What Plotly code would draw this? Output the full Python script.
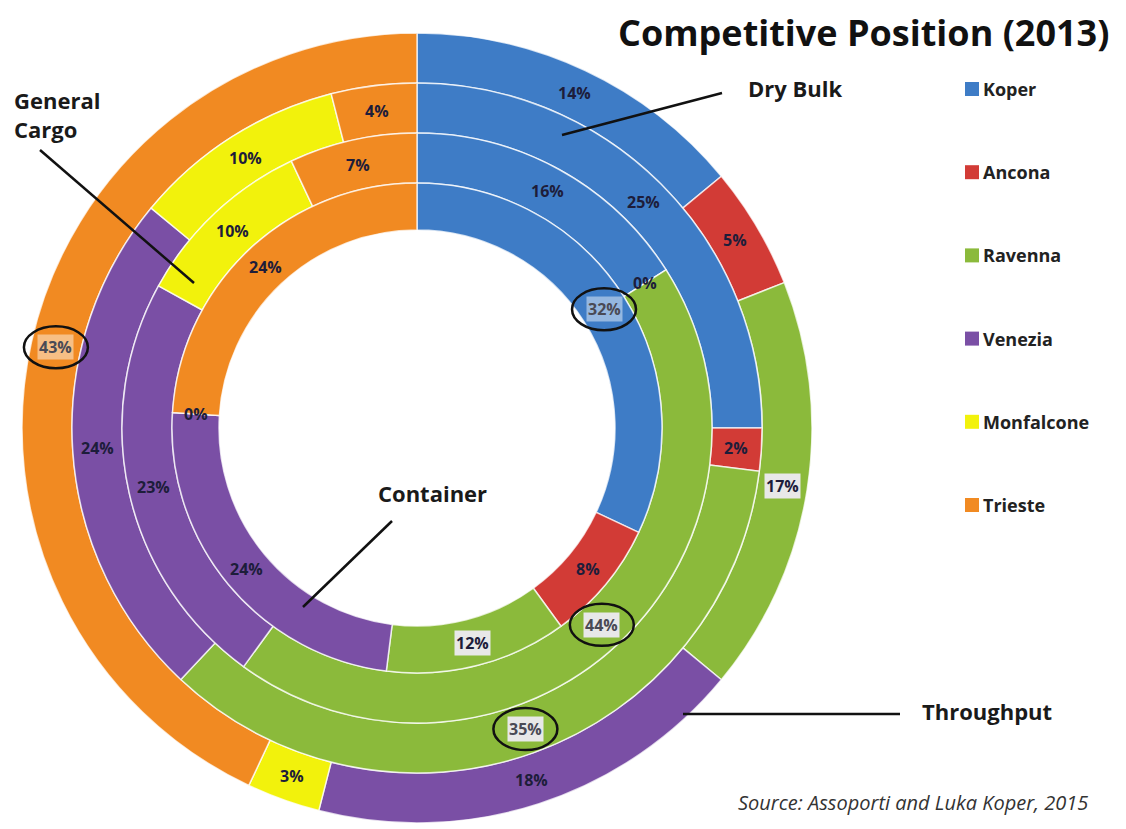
import math
import plotly.graph_objects as go

# ---------------- data ----------------
ports = ["Koper", "Ancona", "Ravenna", "Venezia", "Monfalcone", "Trieste"]
throughput = [14, 5, 17, 18, 3, 43]
dry_bulk = [25, 2, 35, 24, 10, 4]
general_cargo = [16, 0, 44, 23, 10, 7]
container = [32, 8, 12, 24, 0, 24]
ring_names = ["Throughput", "Dry Bulk", "General Cargo", "Container"]
ring_values = [throughput, dry_bulk, general_cargo, container]

# ---------------- style / layout ----------------
colors = ["#3E7CC6", "#D23B36", "#8BBA3B", "#7A4FA5", "#F2F20C", "#F18A22"]
W, H = 1126, 829
OFF = 8          # page body margin added by the html wrapper
CX, CY = 417, 428
R_OUT = [395, 345, 295, 245]
R_IN = [345, 295, 245, 198]
FONT = "Open Sans"

fig = go.Figure()
annotations = []
shapes = []


def to_paper(px, py):
    return (px - OFF) / W, 1 - (py - OFF) / H


for k, (name, vals) in enumerate(zip(ring_names, ring_values)):
    ro, ri = R_OUT[k], R_IN[k]
    fx0, fy0 = to_paper(CX - ro, CY + ro)
    fx1, fy1 = to_paper(CX + ro, CY - ro)
    fig.add_trace(go.Pie(
        labels=ports,
        values=vals,
        name=name,
        sort=False,
        direction="clockwise",
        rotation=0,
        hole=ri / ro,
        textinfo="none",
        hoverinfo="label+value+name",
        marker=dict(colors=colors, line=dict(color="rgba(255,255,255,0.75)", width=1.5)),
        domain=dict(x=[fx0, fx1], y=[fy0, fy1]),
        showlegend=False,
    ))
    # data labels at slice mid-angle / ring mid-radius
    total = float(sum(vals))
    rmid = (ro + ri) / 2
    vmax = max(vals)
    cum = 0.0
    for i, v in enumerate(vals):
        ang = math.radians((cum + v / 2) / total * 360)
        cum += v
        px = CX + rmid * math.sin(ang)
        py = CY - rmid * math.cos(ang)
        x, y = to_paper(px, py)
        is_max = v == vmax
        bg = "rgba(0,0,0,0)"
        fc = "#1d1d3a"
        if ports[i] == "Ravenna":
            bg = "#E8E8E8"
        if is_max:
            fc = "#4a4a55"
            if ports[i] != "Ravenna":
                bg = "rgba(255,255,255,0.45)"
        annotations.append(dict(
            x=x, y=y, xref="paper", yref="paper", text=f"{v}%", showarrow=False,
            font=dict(family=FONT, size=16, color=fc, weight="bold"),
            bgcolor=bg, borderpad=1, xanchor="center", yanchor="middle",
        ))
        if is_max:
            x0, y0 = to_paper(px - 32, py + 21)
            x1, y1 = to_paper(px + 32, py - 21)
            shapes.append(dict(type="circle", xref="paper", yref="paper",
                               x0=x0, y0=y0, x1=x1, y1=y1,
                               line=dict(color="#111111", width=2.5)))

# ---------------- callouts ----------------
def line(p0, p1):
    a = to_paper(*p0)
    b = to_paper(*p1)
    shapes.append(dict(type="line", xref="paper", yref="paper",
                       x0=a[0], y0=a[1], x1=b[0], y1=b[1],
                       line=dict(color="#111111", width=2.5)))


def label(text, px, py, size=22, xanchor="left", align="left"):
    x, y = to_paper(px, py)
    annotations.append(dict(x=x, y=y, xref="paper", yref="paper", text=text,
                            showarrow=False, xanchor=xanchor, yanchor="middle", align=align,
                            font=dict(family=FONT, size=size, color="#1a1a1a", weight="bold")))


label("Dry Bulk", 746, 88)
line((722, 93), (562, 135))
label("General<br>Cargo", 12, 114)
line((40, 150), (194, 283))
label("Container", 432, 493, xanchor="center", align="center")
line((392, 521), (303, 607))
label("Throughput", 920, 711)
line((900, 714), (683, 714))

# ---------------- legend (manual) ----------------
for i, p in enumerate(ports):
    ly = 89 + i * 83.2
    x0, y0 = to_paper(965, ly + 7)
    x1, y1 = to_paper(979, ly - 7)
    shapes.append(dict(type="rect", xref="paper", yref="paper", x0=x0, y0=y0, x1=x1, y1=y1,
                       fillcolor=colors[i], line=dict(color=colors[i], width=0)))
    x, y = to_paper(981, ly)
    annotations.append(dict(x=x, y=y, xref="paper", yref="paper", text=p, showarrow=False,
                            xanchor="left", yanchor="middle",
                            font=dict(family=FONT, size=18, color="#222222", weight="bold")))

# ---------------- title & source ----------------
x, y = to_paper(1111, 32)
annotations.append(dict(x=x, y=y, xref="paper", yref="paper", text="Competitive Position (2013)",
                        showarrow=False, xanchor="right", yanchor="middle",
                        font=dict(family=FONT, size=36, color="#111111", weight="bold")))
x, y = to_paper(1090, 802)
annotations.append(dict(x=x, y=y, xref="paper", yref="paper",
                        text="Source: Assoporti and Luka Koper, 2015",
                        showarrow=False, xanchor="right", yanchor="middle",
                        font=dict(family=FONT, size=20, color="#333333", style="italic")))

fig.update_layout(
    width=W, height=H, autosize=False,
    margin=dict(l=0, r=0, t=0, b=0),
    paper_bgcolor="white", plot_bgcolor="white",
    annotations=annotations, shapes=shapes,
    showlegend=False,
)

fig.write_html("out.html")
